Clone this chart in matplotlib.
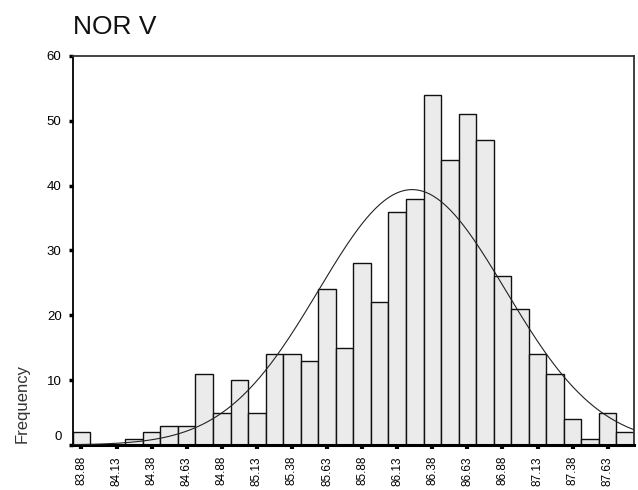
import matplotlib
matplotlib.use("Agg")
import matplotlib.pyplot as plt
import matplotlib.transforms as mtrans
import numpy as np

# histogram of NOR V, bins of width 0.125 starting at 83.8125
bin_start = 83.8125
bin_width = 0.125
counts = [2, 0, 0, 1, 2, 3, 3, 11, 5, 10, 5, 14, 14, 13, 24, 15,
          28, 22, 36, 38, 54, 44, 51, 47, 26, 21, 14, 11, 4, 1, 5, 2]
tick_labels = ["83.88", "84.13", "84.38", "84.63", "84.88", "85.13", "85.38", "85.63",
               "85.88", "86.13", "86.38", "86.63", "86.88", "87.13", "87.38", "87.63"]
y_ticks = [0, 10, 20, 30, 40, 50, 60]

plt.rcParams['font.family'] = ['Liberation Sans', 'DejaVu Sans']

counts = np.array(counts, dtype=float)
centers = bin_start + bin_width * (np.arange(len(counts)) + 0.5)
x_lo = bin_start
x_hi = bin_start + bin_width * len(counts)

fig = plt.figure(figsize=(6.38, 4.9), dpi=100)
ax = fig.add_axes([72.7 / 638, 45 / 490, (634 - 72.7) / 638, (445 - 56) / 490])

ax.bar(centers, counts, width=bin_width, color='#ebebeb', edgecolor='#111111',
       linewidth=1.0, zorder=2)

# normal curve using the mean and sd of the binned data
n = counts.sum()
mu = (counts * centers).sum() / n
sd = np.sqrt((counts * (centers - mu) ** 2).sum() / n)
xs = np.linspace(x_lo, x_hi, 400)
ys = n * bin_width / (sd * np.sqrt(2 * np.pi)) * np.exp(-0.5 * ((xs - mu) / sd) ** 2)
ax.plot(xs, ys, color='#222222', linewidth=0.8, zorder=3)

ax.set_xlim(x_lo, x_hi)
ax.set_ylim(0, 60)

ax.set_xticks(centers[::2])
ax.set_xticklabels(tick_labels, rotation=90, fontsize=8.5)
ax.set_yticks(y_ticks)
ax.set_yticklabels([str(v) for v in y_ticks], fontsize=9.5)
ax.tick_params(axis='x', length=3, width=3, pad=5, color='black')
ax.tick_params(axis='y', length=3, width=2.5, pad=5, color='black')

# the zero label sits a little above the baseline
lab0 = ax.get_yticklabels()[0]
lab0.set_transform(lab0.get_transform() + mtrans.ScaledTranslation(0, 7 / 72, fig.dpi_scale_trans))

for side in ['top', 'right']:
    ax.spines[side].set_color('#333333')
    ax.spines[side].set_linewidth(1.3)
ax.spines['left'].set_linewidth(1.3)
ax.spines['bottom'].set_linewidth(2.2)

ax.set_title("NOR V", loc='left', fontsize=19, pad=16, color='#111111')
fig.text(22 / 638, 47 / 490, "Frequency", rotation=90, ha='center', va='bottom',
         fontsize=12, color='#333333')

fig.savefig("out.png", dpi=100)
